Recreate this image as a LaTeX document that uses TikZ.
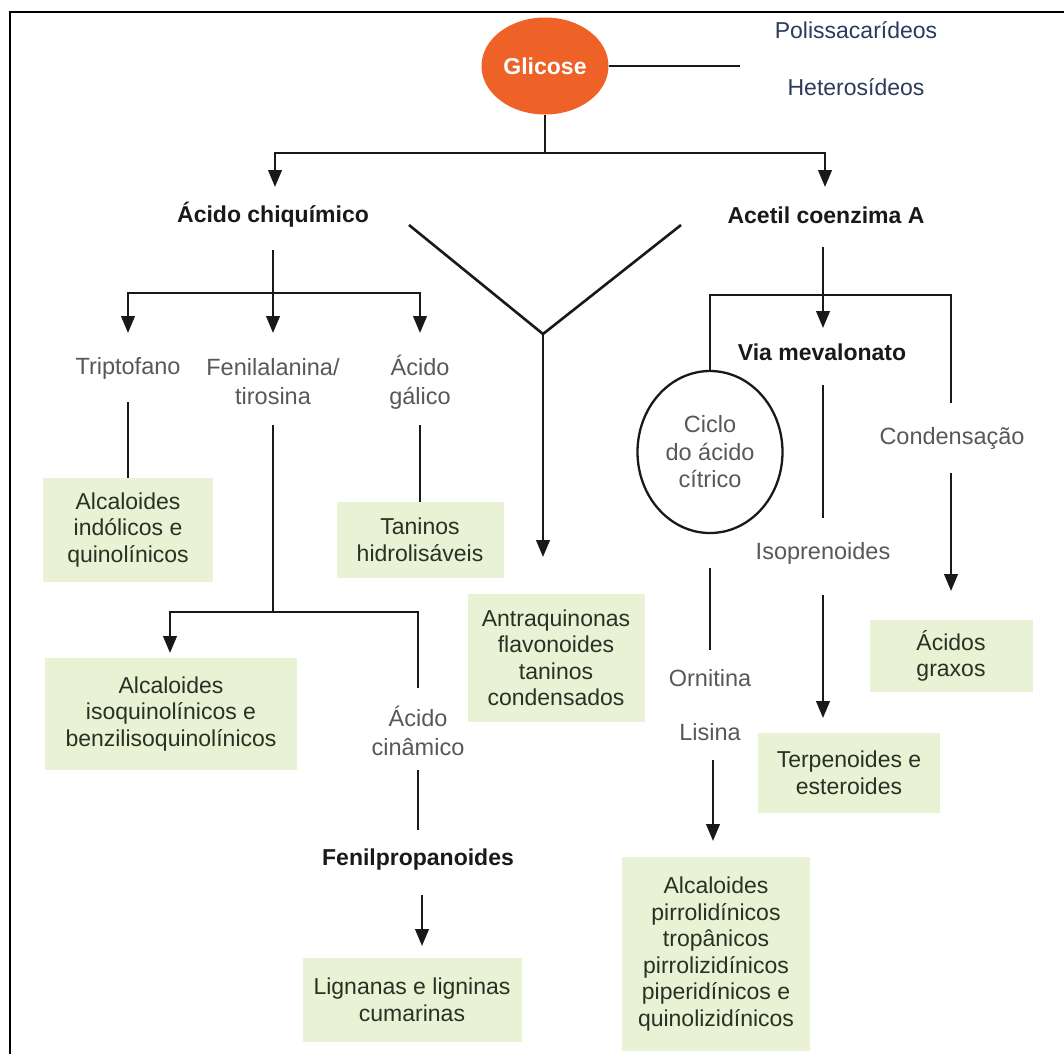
\documentclass[tikz,border=0pt]{standalone}
\usepackage{fontspec}
\setmainfont{Liberation Sans}
\usetikzlibrary{arrows.meta,shapes.geometric}
\definecolor{glicc}{RGB}{238,98,40}
\definecolor{boxg}{RGB}{234,242,214}
\definecolor{boxt}{RGB}{38,50,34}
\definecolor{labc}{RGB}{88,88,88}
\definecolor{navyc}{RGB}{44,58,92}
\definecolor{linec}{RGB}{25,25,25}
\begin{document}
\begin{tikzpicture}[x=1pt,y=-1pt,
  line/.style={line width=2.6pt, draw=linec},
  arr/.style={line, -{Triangle[length=17pt,width=13.5pt]}},
  res/.style={fill=boxg, text=boxt, align=center, inner sep=0pt,
    font=\fontsize{23}{26.5}\selectfont},
  lbl/.style={text=labc, align=center, inner sep=0pt,
    font=\fontsize{23.5}{29}\selectfont},
  navylbl/.style={text=navyc, inner sep=0pt, font=\fontsize{23}{27}\selectfont},
  ttl/.style={text=linec, inner sep=0pt, font=\fontsize{23}{27}\selectfont\bfseries},
]
\fill[white] (0,0) rectangle (1064,1053);
\useasboundingbox (0,0) rectangle (1064,1053);
\draw[line width=2.2pt] (10,1056) -- (10,12) -- (1066,12);

% top
\node[ellipse, fill=glicc, minimum width=127pt, minimum height=97pt, inner sep=0pt,
  text=white, font=\fontsize{23}{27}\selectfont\bfseries] (glic) at (545,66) {Glicose};
\node[navylbl] (poli) at (856,30) {Polissacarídeos};
\node[navylbl] (het) at (856,87) {Heterosídeos};
\coordinate (hetend) at (740,66);
\draw[line] (glic.east) -- (hetend);

\node[ttl] (acs) at (273,215) {Ácido chiquímico};
\node[ttl] (acet) at (826,215) {Acetil coenzima A};
\coordinate (j0) at (545,153);
\coordinate (tA) at (275,187);
\coordinate (tB) at (825,187);
\draw[line] (glic.south) -- (j0);
\draw[arr] (j0) -| (tA);
\draw[arr] (j0) -| (tB);

% V
\coordinate (vl) at (409,225);
\coordinate (vr) at (681,225);
\coordinate (vv) at (543,334);
\coordinate (vt) at (543,557);
\draw[line] (vl) -- (vv) -- (vr);
\draw[arr] (vv) -- (vt);

% chiquimico branch
\node[lbl] (trip) at (128,368) {Triptofano};
\node[lbl] (fen) at (273,382) {Fenilalanina/\\tirosina};
\node[lbl] (gal) at (420,382) {Ácido\\gálico};
\coordinate (c0) at (273,250);
\coordinate (c1) at (273,293);
\coordinate (tTrip) at (128,333);
\coordinate (tFen) at (273,333);
\coordinate (tGal) at (420,333);
\draw[arr] (c0) -- (tFen);
\draw[arr] (c1) -| (tTrip);
\draw[arr] (c1) -| (tGal);

\node[res, minimum width=170pt, minimum height=104pt] (indol) at (128,530)
  {Alcaloides\\indólicos e\\quinolínicos};
\node[res, minimum width=167pt, minimum height=76pt] (tanh) at (420,540)
  {Taninos\\hidrolisáveis};
\coordinate (trb) at (128,402);
\draw[line] (trb) -- (indol.north);
\coordinate (gab) at (420,425);
\draw[line] (gab) -- (tanh.north);

% fenilalanina
\coordinate (fb) at (273,425);
\coordinate (fj) at (273,612);
\coordinate (tIso) at (170,653);
\coordinate (cinT) at (418,688);
\draw[line] (fb) -- (fj);
\draw[arr] (fj) -| (tIso);
\draw[line] (fj) -| (cinT);
\node[res, minimum width=252pt, minimum height=112pt] (isoq) at (171,714)
  {Alcaloides\\isoquinolínicos e\\benzilisoquinolínicos};
\node[lbl] (cin) at (418,731) {Ácido\\cinâmico};
\coordinate (cb) at (418,770);
\coordinate (ce) at (418,830);
\draw[line] (cb) -- (ce);
\node[ttl] (fenp) at (418,860) {Fenilpropanoides};
\coordinate (fpb) at (422,895);
\coordinate (fpt) at (422,946);
\draw[arr] (fpb) -- (fpt);
\node[res, minimum width=219pt, minimum height=84pt] (lign) at (412,1000)
  {Lignanas e ligninas\\cumarinas};

\node[res, minimum width=177pt, minimum height=128pt] (antr) at (556,658)
  {Antraquinonas\\flavonoides\\taninos\\condensados};

% acetil branch
\coordinate (a0) at (823,247);
\coordinate (aT) at (823,328);
\draw[arr] (a0) -- (aT);
\node[ttl] (vmev) at (822,352) {Via mevalonato};
\node[ellipse, draw=linec, line width=2.3pt, minimum width=145pt, minimum height=162pt,
  inner sep=0pt, text=labc, align=center, font=\fontsize{23.5}{27.5}\selectfont]
  (ciclo) at (710,452) {Ciclo\\do ácido\\cítrico};
\coordinate (aj) at (823,295);
\coordinate (condT) at (951,403);
\draw[line] (ciclo.north) |- (aj);
\draw[line] (aj) -| (condT);
\node[lbl] (cond) at (952,438) {Condensação};
\coordinate (vb) at (823,385);
\coordinate (ve) at (823,518);
\draw[line] (vb) -- (ve);
\node[lbl] (isop) at (823,553) {Isoprenoides};
\coordinate (ib) at (823,595);
\coordinate (it) at (823,718);
\draw[arr] (ib) -- (it);
\coordinate (cdb) at (951,473);
\coordinate (cdt) at (951,591);
\draw[arr] (cdb) -- (cdt);
\node[res, minimum width=163pt, minimum height=72pt] (grax) at (951,656)
  {Ácidos\\graxos};
\node[res, minimum width=182pt, minimum height=80pt] (terp) at (849,773)
  {Terpenoides e\\esteroides};
\coordinate (ccb) at (710,568);
\coordinate (cce) at (710,650);
\draw[line] (ccb) -- (cce);
\node[lbl] (orn) at (710,678) {Ornitina};
\node[lbl] (lis) at (710,732) {Lisina};
\coordinate (lb) at (713,760);
\coordinate (lt) at (713,841);
\draw[arr] (lb) -- (lt);
\node[res, minimum width=188pt, minimum height=194pt] (pirr) at (716,954)
  {Alcaloides\\pirrolidínicos\\tropânicos\\pirrolizidínicos\\piperidínicos e\\quinolizidínicos};
\end{tikzpicture}
\end{document}
